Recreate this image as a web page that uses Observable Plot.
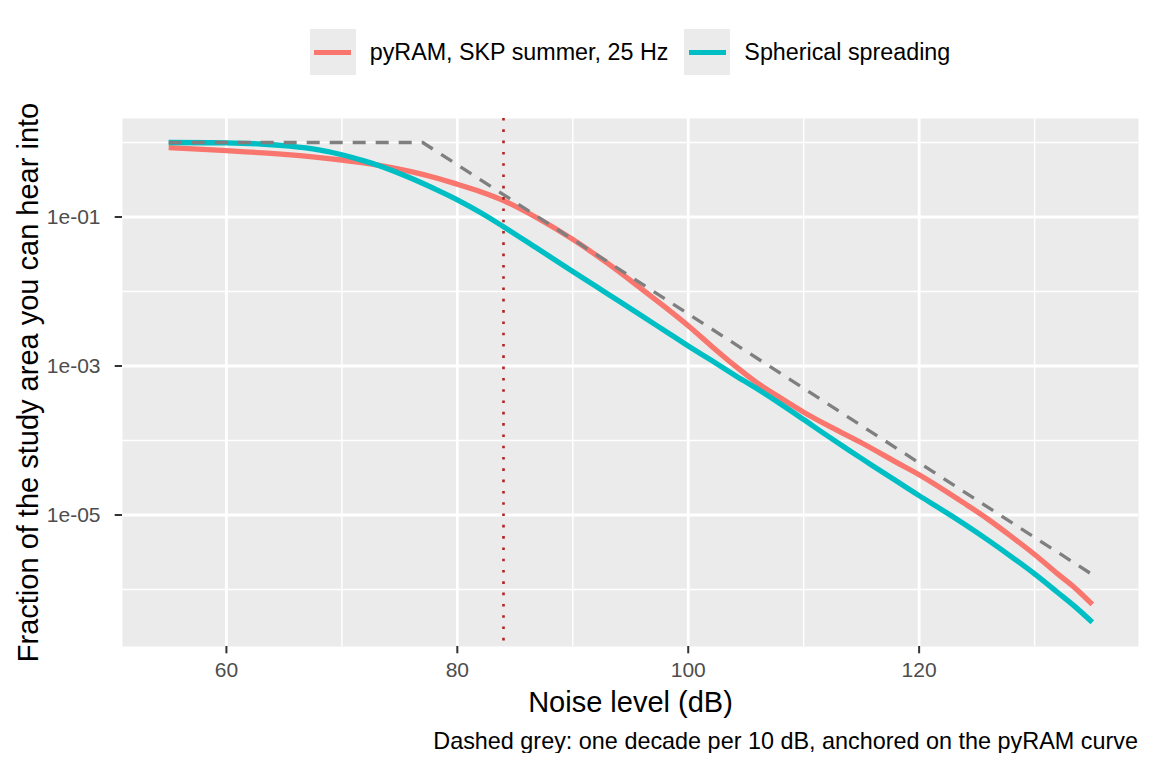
<!DOCTYPE html>
<html>
<head>
<meta charset="utf-8">
<script src="https://cdn.jsdelivr.net/npm/d3@7"></script>
<script src="https://cdn.jsdelivr.net/npm/@observablehq/plot@0.6"></script>
<style>
  body { margin: 0; background: white; width: 1152px; font-family: "Liberation Sans", Arial, sans-serif; }
  #legend { display: flex; justify-content: center; align-items: flex-start; box-sizing: border-box; height: 96px; padding: 29px 14px 0 122px; }
  .item { display: flex; align-items: center; height: 46px; }
  .key { width: 46px; height: 46px; background: #EBEBEB; position: relative; }
  .key span { position: absolute; left: 4.5px; right: 4.5px; top: 20.5px; height: 5px; }
  .lab { font-size: 23.3px; color: #000; margin-left: 14px; white-space: nowrap; }
  #caption { text-align: right; padding-right: 14px; font-size: 23.4px; line-height: 24px; margin-top: 7px; color: #000; }
</style>
</head>
<body>
<div id="legend"></div>
<div id="chart"></div>
<div id="caption"></div>
<script>
// ---- data ----
const seriesNames = ["pyRAM, SKP summer, 25 Hz", "Spherical spreading"];
const seriesColors = ["#F8766D", "#00BFC4"];

const pyramDb = [55, 60, 65, 70, 73, 76, 78.5, 80, 82, 84, 87, 90, 93, 96, 98, 100, 102, 104, 106, 108, 110, 112, 115, 118, 120, 122, 124, 126, 128, 130, 132, 133.5, 135];
const pyramFrac = [0.851, 0.776, 0.692, 0.582, 0.501, 0.407, 0.324, 0.275, 0.219, 0.166, 9.55e-2, 5.01e-2, 2.40e-2, 1.07e-2, 6.17e-3, 3.47e-3, 1.86e-3, 1.02e-3, 5.89e-4, 3.72e-4, 2.40e-4, 1.62e-4, 9.33e-5, 5.13e-5, 3.47e-5, 2.24e-5, 1.41e-5, 8.71e-6, 5.13e-6, 2.95e-6, 1.62e-6, 1.05e-6, 6.31e-7];

const sphDb = [55, 60, 63, 65.5, 68, 70, 72, 73.3, 76, 78.5, 80, 82, 84, 87, 90, 93, 96, 98, 100, 102, 104, 106, 108, 110, 112, 115, 118, 120, 122, 124, 126, 128, 130, 132, 133.5, 135];
const sphFrac = [1.0, 0.989, 0.955, 0.891, 0.794, 0.684, 0.562, 0.484, 0.331, 0.221, 0.170, 0.115, 7.41e-2, 3.72e-2, 1.86e-2, 9.33e-3, 4.68e-3, 2.95e-3, 1.86e-3, 1.19e-3, 7.59e-4, 4.90e-4, 3.09e-4, 1.91e-4, 1.17e-4, 5.75e-5, 2.88e-5, 1.82e-5, 1.17e-5, 7.41e-6, 4.57e-6, 2.75e-6, 1.62e-6, 9.12e-7, 5.89e-7, 3.63e-7];

const refDb = [55, 77, 135];
const refFrac = [1, 1, 1.585e-6];

const markerDb = [84];

const xMajor = [60, 80, 100, 120];
const xMinor = [70, 90, 110, 130];
const yMajor = [1e-1, 1e-3, 1e-5];
const yMinor = [1, 1e-2, 1e-4, 1e-6];
const yTickLabels = ["1e-01", "1e-03", "1e-05"];

const xTitle = "Noise level (dB)";
const yTitle = "Fraction of the study area you can hear into";
const captionText = "Dashed grey: one decade per 10 dB, anchored on the pyRAM curve";

// ---- build tables ----
const pyram = pyramDb.map((x, i) => ({x, y: pyramFrac[i]}));
const sph = sphDb.map((x, i) => ({x, y: sphFrac[i]}));
const ref = refDb.map((x, i) => ({x, y: refFrac[i]}));

const font = '"Liberation Sans", Arial, sans-serif';

const chart = Plot.plot({
  width: 1152,
  height: 626,
  marginLeft: 122,
  marginRight: 14,
  marginTop: 22,
  marginBottom: 76,
  style: {fontFamily: font, background: "white"},
  x: {domain: [51, 139]},
  y: {type: "log", domain: [1.718e-7, 2.099]},
  marks: [
    Plot.frame({fill: "#EBEBEB", stroke: "none"}),
    Plot.ruleX(xMinor, {stroke: "white", strokeWidth: 1.4}),
    Plot.ruleY(yMinor, {stroke: "white", strokeWidth: 1.4}),
    Plot.ruleX(xMajor, {stroke: "white", strokeWidth: 2.8}),
    Plot.ruleY(yMajor, {stroke: "white", strokeWidth: 2.8}),
    Plot.line(pyram, {x: "x", y: "y", curve: "catmull-rom", stroke: seriesColors[0], strokeWidth: 5.3, strokeLinecap: "butt"}),
    Plot.line(sph, {x: "x", y: "y", curve: "catmull-rom", stroke: seriesColors[1], strokeWidth: 5.3, strokeLinecap: "butt"}),
    Plot.line(ref, {x: "x", y: "y", stroke: "#7F7F7F", strokeWidth: 3.3, strokeDasharray: "13,10", strokeLinecap: "butt"}),
    Plot.ruleX(markerDb, {stroke: "#B22222", strokeWidth: 2.6, strokeDasharray: "2.6,8.7"}),
    Plot.axisX({ticks: xMajor, tickSize: 7.3, tickPadding: 8, fontSize: 21, stroke: "#333333", fill: "#4D4D4D", strokeWidth: 2, label: null, tickFormat: d => String(d)}),
    Plot.axisY({ticks: yMajor, tickSize: 7.3, tickPadding: 14.7, fontSize: 21, stroke: "#333333", fill: "#4D4D4D", strokeWidth: 2, label: null, tickFormat: d => yTickLabels[yMajor.indexOf(d)]}),
    Plot.text([xTitle], {text: d => d, frameAnchor: "bottom", textAnchor: "middle", lineAnchor: "middle", dy: 56, fontSize: 29, fill: "black"}),
    Plot.text([yTitle], {text: d => d, frameAnchor: "left", textAnchor: "middle", lineAnchor: "middle", rotate: -90, dx: -94, fontSize: 29, fill: "black"})
  ]
});
document.getElementById("chart").appendChild(chart);

// ---- legend ----
const legend = document.getElementById("legend");
seriesNames.forEach((name, i) => {
  const item = document.createElement("div");
  item.className = "item";
  if (i > 0) item.style.marginLeft = "16px";
  const key = document.createElement("div");
  key.className = "key";
  const ln = document.createElement("span");
  ln.style.background = seriesColors[i];
  key.appendChild(ln);
  const lab = document.createElement("div");
  lab.className = "lab";
  lab.textContent = name;
  item.appendChild(key);
  item.appendChild(lab);
  legend.appendChild(item);
});

document.getElementById("caption").textContent = captionText;
</script>
</body>
</html>
